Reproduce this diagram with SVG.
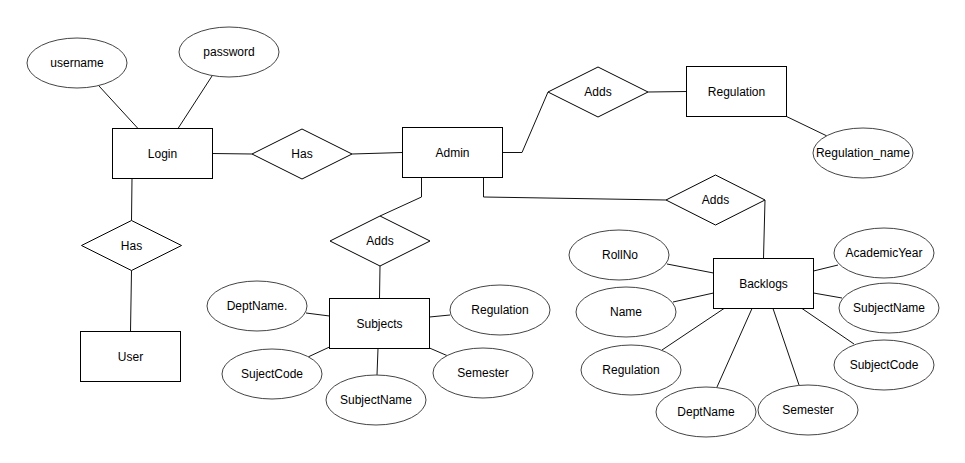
<svg xmlns="http://www.w3.org/2000/svg" width="965" height="463" viewBox="0 0 965 463">
  <style>
    .ent { fill: #fff; stroke: #000; stroke-width: 1; }
    .rel { fill: #fff; stroke: #000; stroke-width: 1; }
    .att { fill: #fff; stroke: #444; stroke-width: 1; }
    .con { fill: none; stroke: #111; stroke-width: 1; }
    text { font-family: "Liberation Sans", Arial, sans-serif; font-size: 12px; fill: #000; text-anchor: middle; }
  </style>
  <rect width="965" height="463" fill="#fff"/>

  <!-- connectors -->
  <g id="connectors" class="con">
    <line x1="99" y1="86" x2="138" y2="128.5"/>
    <line x1="212" y1="76" x2="178" y2="128.5"/>
    <line x1="212.5" y1="153.5" x2="252" y2="154"/>
    <line x1="352" y1="154" x2="402.5" y2="152.5"/>
    <polyline points="132,178.5 131.5,220.5"/>
    <polyline points="131.5,270.5 130.5,331.5"/>
    <polyline points="502.5,152.5 522,152.5 548,92"/>
    <line x1="648" y1="92" x2="686.5" y2="91.5"/>
    <line x1="786.5" y1="116.5" x2="827" y2="136"/>
    <polyline points="421.5,177.5 421.5,197 380,216"/>
    <line x1="380" y1="266" x2="379.5" y2="298.5"/>
    <polyline points="483.5,177.5 483.5,197 666,200"/>
    <line x1="765" y1="200" x2="763.5" y2="258.5"/>
    <!-- Subjects attributes -->
    <line x1="306" y1="313" x2="329.5" y2="316"/>
    <line x1="308" y1="357" x2="329.5" y2="347"/>
    <line x1="378" y1="348.5" x2="377" y2="375"/>
    <line x1="429.5" y1="317" x2="450" y2="315"/>
    <line x1="429.5" y1="348" x2="448" y2="356"/>
    <!-- Backlogs attributes -->
    <line x1="667" y1="264" x2="713.5" y2="273"/>
    <line x1="673" y1="302" x2="713.5" y2="293"/>
    <line x1="662" y1="350" x2="724" y2="308.5"/>
    <line x1="717" y1="387" x2="752" y2="308.5"/>
    <line x1="799" y1="385" x2="773" y2="308.5"/>
    <line x1="854" y1="344" x2="802" y2="308.5"/>
    <line x1="813.5" y1="293" x2="842" y2="298"/>
    <line x1="813.5" y1="271" x2="838" y2="265"/>
  </g>

  <!-- entities -->
  <g id="login"><rect class="ent" x="112.5" y="128.5" width="100" height="50"/><text x="162.5" y="158">Login</text></g>
  <g id="admin"><rect class="ent" x="402.5" y="127.5" width="100" height="50"/><text x="452.5" y="157">Admin</text></g>
  <g id="user"><rect class="ent" x="80.5" y="331.5" width="100" height="50"/><text x="130.5" y="361">User</text></g>
  <g id="regulation"><rect class="ent" x="686.5" y="66.5" width="100" height="50"/><text x="736.5" y="96">Regulation</text></g>
  <g id="subjects"><rect class="ent" x="329.5" y="298.5" width="100" height="50"/><text x="379.5" y="328">Subjects</text></g>
  <g id="backlogs"><rect class="ent" x="713.5" y="258.5" width="100" height="50"/><text x="763.5" y="288">Backlogs</text></g>

  <!-- relationships -->
  <g id="has-login-admin"><polygon class="rel" points="252,154 302,129 352,154 302,179"/><text x="302" y="158">Has</text></g>
  <g id="has-login-user"><polygon class="rel" points="81.5,245.5 131.5,220.5 181.5,245.5 131.5,270.5"/><text x="131.5" y="249.5">Has</text></g>
  <g id="adds-regulation"><polygon class="rel" points="548,92 598,67 648,92 598,117"/><text x="598" y="96">Adds</text></g>
  <g id="adds-subjects"><polygon class="rel" points="330,241 380,216 430,241 380,266"/><text x="380" y="245">Adds</text></g>
  <g id="adds-backlogs"><polygon class="rel" points="666,200 715.5,175 765,200 715.5,225"/><text x="715.5" y="204">Adds</text></g>

  <!-- attributes -->
  <g id="att-username"><ellipse class="att" cx="77" cy="63" rx="50" ry="25"/><text x="77" y="67">username</text></g>
  <g id="att-password"><ellipse class="att" cx="229" cy="52" rx="50" ry="25"/><text x="229" y="56">password</text></g>
  <g id="att-regulation-name"><ellipse class="att" cx="863" cy="153" rx="50" ry="25"/><text x="863" y="157">Regulation_name</text></g>

  <g id="att-subj-deptname"><ellipse class="att" cx="257" cy="306" rx="50" ry="25"/><text x="257" y="310">DeptName.</text></g>
  <g id="att-subj-sujectcode"><ellipse class="att" cx="272" cy="374" rx="50" ry="25"/><text x="272" y="378">SujectCode</text></g>
  <g id="att-subj-subjectname"><ellipse class="att" cx="376" cy="400" rx="50" ry="25"/><text x="376" y="404">SubjectName</text></g>
  <g id="att-subj-regulation"><ellipse class="att" cx="500" cy="310" rx="50" ry="25"/><text x="500" y="314">Regulation</text></g>
  <g id="att-subj-semester"><ellipse class="att" cx="483" cy="373" rx="50" ry="25"/><text x="483" y="377">Semester</text></g>

  <g id="att-bl-rollno"><ellipse class="att" cx="619" cy="255" rx="50" ry="25"/><text x="620" y="259">RollNo</text></g>
  <g id="att-bl-name"><ellipse class="att" cx="626" cy="312" rx="50" ry="25"/><text x="626" y="316">Name</text></g>
  <g id="att-bl-regulation"><ellipse class="att" cx="631" cy="370" rx="50" ry="25"/><text x="631" y="374">Regulation</text></g>
  <g id="att-bl-deptname"><ellipse class="att" cx="706" cy="412" rx="50" ry="25"/><text x="706" y="416">DeptName</text></g>
  <g id="att-bl-semester"><ellipse class="att" cx="808" cy="410" rx="50" ry="25"/><text x="808" y="414">Semester</text></g>
  <g id="att-bl-subjectcode"><ellipse class="att" cx="884" cy="365" rx="50" ry="25"/><text x="884" y="369">SubjectCode</text></g>
  <g id="att-bl-subjectname"><ellipse class="att" cx="889" cy="308" rx="50" ry="25"/><text x="889" y="312">SubjectName</text></g>
  <g id="att-bl-academicyear"><ellipse class="att" cx="884" cy="253" rx="50" ry="25"/><text x="884" y="257">AcademicYear</text></g>
</svg>
